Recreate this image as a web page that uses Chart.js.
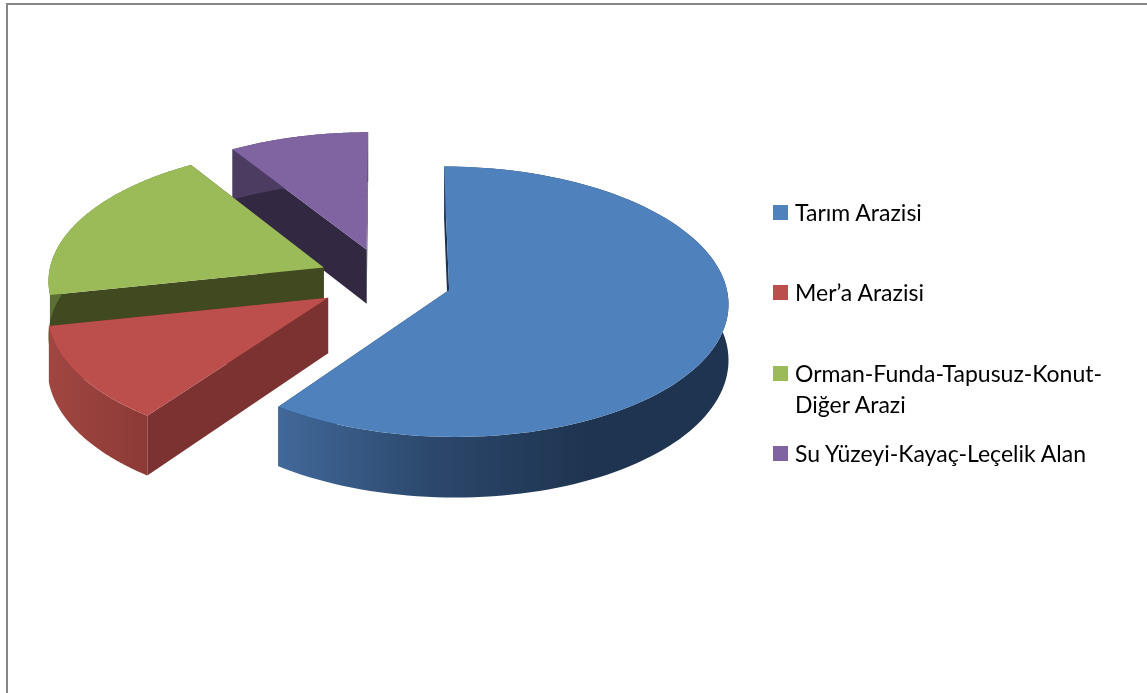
<!DOCTYPE html>
<html>
<head>
<meta charset="utf-8">
<script src="https://cdn.jsdelivr.net/npm/chart.js@4"></script>
<style>
  html, body { margin: 0; padding: 0; background: #fff; overflow: hidden; }
  #wrap { position: relative; width: 1147px; height: 693px; }
  #frame { position: absolute; left: 6px; top: 3px; right: 0; bottom: 0; border-left: 2px solid #868686; border-top: 2px solid #868686; }
  canvas { position: absolute; left: 0; top: 0; }
  .item { position: absolute; left: 773px; font: 23px/31px Lato, sans-serif; color: #000; white-space: nowrap; padding-left: 22px; }
  .item i { position: absolute; left: 0; top: 8px; width: 15px; height: 15px; }
</style>
</head>
<body>
<div id="wrap">
  <div id="frame"></div>
  <canvas id="pie" width="1147" height="693"></canvas>
  <div id="legend"></div>
</div>
<script>
const categories = ['Tarım Arazisi', 'Mer’a Arazisi', ['Orman-Funda-Tapusuz-Konut-', 'Diğer Arazi'], 'Su Yüzeyi-Kayaç-Leçelik Alan'];
const shares = [60, 11.7, 19.3, 9];

const topColors = ['#4f81bd', '#bc4f4c', '#9bbb59', '#8064a2'];
const wallColors = ['#1e3450', '#7b3230', '#40491f', '#322842'];
const rimStops = [
  [[278, '#41699a'], [430, '#2c486c'], [590, '#1e3450'], [730, '#1e3450']],
  [[52, '#a04641'], [147, '#8c3a36']],
  [[52, '#5c7033'], [192, '#5c7033']],
  [[235, '#4c3c61'], [370, '#4c3c61']],
];
const legendTops = [197, 277, 358, 438];

// view of the tilted pie
const tilt = 0.48, persp = 0.086, depth = 55;

function project(chartX, chartY, X, Y, R, z) {
  const s = 1 / (1 - persp * Y / R);
  return [chartX + X * s, chartY + tilt * Y * s + z * s];
}

const pie3d = {
  id: 'pie3d',
  beforeDatasetsDraw(chart) {
    const ctx = chart.ctx;
    const arcs = chart.getDatasetMeta(0).data;
    for (let i = arcs.length - 1; i >= 0; i--) {
      const { x, y, startAngle, endAngle, outerRadius } = arcs[i].getProps(['x', 'y', 'startAngle', 'endAngle', 'outerRadius'], true);
      const mid = (startAngle + endAngle) / 2;
      const off = arcs[i].options.offset;
      const ax = Math.cos(mid) * off, ay = Math.sin(mid) * off;
      const pt = (r, a, z) => project(x, y, ax + r * Math.cos(a), ay + r * Math.sin(a), outerRadius, z);

      const steps = 120;
      const rim = [];
      for (let n = 0; n <= steps; n++) rim.push(startAngle + (endAngle - startAngle) * n / steps);

      const fillPoly = (points, style) => {
        ctx.beginPath();
        points.forEach((p, n) => n ? ctx.lineTo(p[0], p[1]) : ctx.moveTo(p[0], p[1]));
        ctx.closePath();
        ctx.fillStyle = style;
        ctx.fill();
      };

      // flat walls along both cut edges
      [startAngle, endAngle].forEach(a => {
        fillPoly([pt(0, a, 0), pt(outerRadius, a, 0), pt(outerRadius, a, depth), pt(0, a, depth)], wallColors[i]);
      });

      // outer rim, shaded left to right
      const grad = ctx.createLinearGradient(rimStops[i][0][0], 0, rimStops[i][rimStops[i].length - 1][0], 0);
      const x0 = rimStops[i][0][0], x1 = rimStops[i][rimStops[i].length - 1][0];
      rimStops[i].forEach(st => grad.addColorStop((st[0] - x0) / (x1 - x0), st[1]));
      fillPoly(rim.map(a => pt(outerRadius, a, 0)).concat(rim.slice().reverse().map(a => pt(outerRadius, a, depth))), grad);

      // top face
      fillPoly([pt(0, startAngle, 0)].concat(rim.map(a => pt(outerRadius, a, 0))), topColors[i]);
    }
    return false;
  }
};

new Chart(document.getElementById('pie'), {
  type: 'pie',
  plugins: [pie3d],
  data: {
    labels: categories,
    datasets: [{ data: shares, backgroundColor: topColors, offset: 67, borderWidth: 0 }],
  },
  options: {
    responsive: false,
    animation: false,
    radius: 276,
    layout: { padding: { left: 0, top: 0, right: 377, bottom: 133 } },
    plugins: { legend: { display: false }, tooltip: { enabled: false } },
  },
});

const legendBox = document.getElementById('legend');
categories.forEach((name, i) => {
  const row = document.createElement('div');
  row.className = 'item';
  row.style.top = legendTops[i] + 'px';
  const box = document.createElement('i');
  box.style.background = topColors[i];
  row.appendChild(box);
  [].concat(name).forEach((line, n) => {
    if (n) row.appendChild(document.createElement('br'));
    row.appendChild(document.createTextNode(line));
  });
  legendBox.appendChild(row);
});
</script>
</body>
</html>
